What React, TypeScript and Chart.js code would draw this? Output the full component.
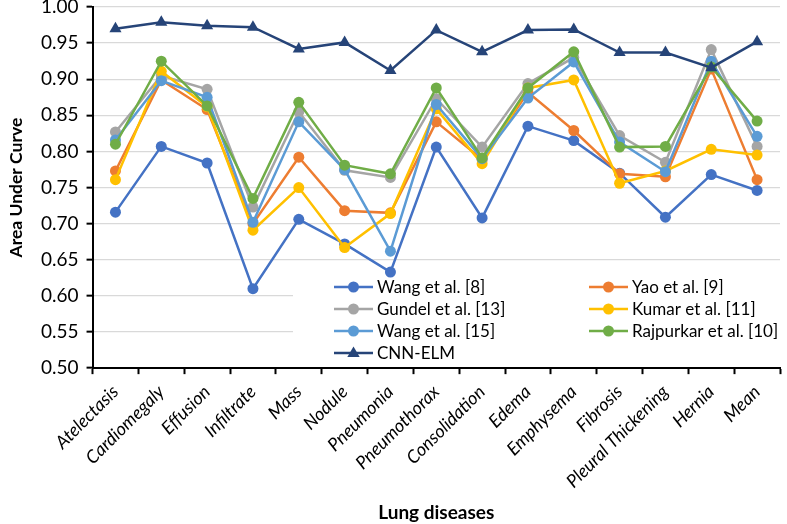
import React, { useEffect, useRef } from 'react';
import { Chart, registerables } from 'chart.js';

Chart.register(...registerables);

const categories = ['Atelectasis', 'Cardiomegaly', 'Effusion', 'Infiltrate', 'Mass', 'Nodule', 'Pneumonia', 'Pneumothorax', 'Consolidation', 'Edema', 'Emphysema', 'Fibrosis', 'Pleural Thickening', 'Hernia', 'Mean'];

const wang8 = [0.716, 0.807, 0.784, 0.610, 0.706, 0.672, 0.633, 0.806, 0.708, 0.835, 0.815, 0.770, 0.709, 0.768, 0.746];
const yao9 = [0.773, 0.899, 0.858, 0.700, 0.792, 0.718, 0.715, 0.841, 0.789, 0.882, 0.829, 0.769, 0.765, 0.914, 0.761];
const gundel13 = [0.827, 0.905, 0.886, 0.723, 0.855, 0.774, 0.764, 0.873, 0.806, 0.894, 0.930, 0.822, 0.785, 0.941, 0.807];
const kumar11 = [0.761, 0.911, 0.862, 0.691, 0.750, 0.667, 0.714, 0.859, 0.783, 0.888, 0.899, 0.756, 0.773, 0.803, 0.795];
const wang15 = [0.816, 0.898, 0.875, 0.702, 0.841, 0.775, 0.662, 0.865, 0.790, 0.874, 0.924, 0.813, 0.772, 0.925, 0.821];
const rajpurkar10 = [0.810, 0.925, 0.863, 0.735, 0.868, 0.781, 0.769, 0.888, 0.791, 0.888, 0.938, 0.806, 0.807, 0.917, 0.842];
const cnnElm = [0.970, 0.979, 0.974, 0.972, 0.942, 0.951, 0.912, 0.968, 0.938, 0.968, 0.969, 0.937, 0.937, 0.916, 0.952];

const seriesNames = ['Wang et al. [8]', 'Yao et al. [9]', 'Gundel et al. [13]', 'Kumar et al. [11]', 'Wang et al. [15]', 'Rajpurkar et al. [10]', 'CNN-ELM'];
const seriesData = [wang8, yao9, gundel13, kumar11, wang15, rajpurkar10, cnnElm];
const seriesColors = ['#4472C4', '#ED7D31', '#A5A5A5', '#FFC000', '#5B9BD5', '#70AD47', '#264478'];

const yTicks = [0.5, 0.55, 0.6, 0.65, 0.7, 0.75, 0.8, 0.85, 0.9, 0.95, 1.0];

const FONT = 'Lato';

const legendPlugin = {
  id: 'insideLegend',
  afterDatasetsDraw(chart: any) {
    const ctx = chart.ctx;
    const ca = chart.chartArea;
    const left = 293;
    const top = 278;
    ctx.save();
    ctx.fillStyle = '#ffffff';
    ctx.fillRect(left, top, ca.right - left, ca.bottom - 2 - top);
    const rows = [287, 309, 331, 353];
    const cols = [334, 589];
    ctx.font = `17px ${FONT}`;
    ctx.textBaseline = 'middle';
    ctx.textAlign = 'left';
    seriesNames.forEach((name, i) => {
      const x = cols[i % 2];
      const y = rows[Math.floor(i / 2)];
      const color = seriesColors[i];
      ctx.strokeStyle = color;
      ctx.lineWidth = 2.5;
      ctx.beginPath();
      ctx.moveTo(x, y);
      ctx.lineTo(x + 39, y);
      ctx.stroke();
      ctx.fillStyle = color;
      const cx = x + 19.5;
      if (i === 6) {
        const r = 6.5;
        ctx.beginPath();
        ctx.moveTo(cx, y - r);
        ctx.lineTo(cx + r * 0.95, y + r * 0.6);
        ctx.lineTo(cx - r * 0.95, y + r * 0.6);
        ctx.closePath();
        ctx.fill();
      } else {
        ctx.beginPath();
        ctx.arc(cx, y, 5.5, 0, Math.PI * 2);
        ctx.fill();
      }
      ctx.fillStyle = '#000000';
      ctx.fillText(name, x + 43, y + 1);
    });
    ctx.restore();
  },
};

export default function App() {
  const ref = useRef<HTMLCanvasElement | null>(null);
  useEffect(() => {
    document.body.style.margin = '0';
    const canvas = ref.current;
    if (!canvas) return;
    const datasets = seriesNames.map((name, i) => ({
      label: name,
      data: seriesData[i],
      borderColor: seriesColors[i],
      backgroundColor: seriesColors[i],
      borderWidth: 2.5,
      pointRadius: i === 6 ? 7 : 5.5,
      pointStyle: i === 6 ? 'triangle' : 'circle',
      pointBorderWidth: 0,
      tension: 0,
      order: 10 - i,
    }));
    const chart = new Chart(canvas, {
      type: 'line',
      data: { labels: categories, datasets },
      options: {
        animation: false,
        responsive: true,
        maintainAspectRatio: false,
        layout: { padding: { left: 4, right: 1, top: 7, bottom: 0 } },
        plugins: { legend: { display: false }, tooltip: { enabled: false } },
        scales: {
          x: {
            type: 'category',
            offset: true,
            grid: { offset: true, drawOnChartArea: false, drawTicks: true, tickLength: 6, tickColor: '#000000', tickWidth: 2 },
            border: { color: '#000000', width: 2 },
            ticks: {
              color: '#000000',
              font: { family: FONT, size: 18, style: 'italic' },
              minRotation: 45,
              maxRotation: 45,
              autoSkip: false,
              padding: 7,
            },
            title: {
              display: true,
              text: 'Lung diseases',
              color: '#000000',
              font: { family: FONT, size: 19, weight: 'bold' },
              padding: { top: 2, bottom: 0 },
            },
            afterFit: (s: any) => { s.paddingLeft = 0; s.paddingRight = 0; },
          },
          y: {
            min: 0.5,
            max: 1.0,
            afterBuildTicks: (s: any) => { s.ticks = yTicks.map((v) => ({ value: v })); },
            grid: { color: '#D9D9D9', lineWidth: 1.3, drawTicks: true, tickLength: 6, tickColor: '#000000', tickWidth: 2 },
            border: { color: '#000000', width: 2 },
            ticks: {
              color: '#000000',
              font: { family: FONT, size: 19 },
              padding: 8,
              callback: (v: any) => Number(v).toFixed(2),
            },
            title: {
              display: true,
              text: 'Area Under Curve',
              color: '#000000',
              font: { family: FONT, size: 17.5, weight: 'bold' },
              padding: { top: 2, bottom: 6 },
            },
            afterFit: (s: any) => { s.paddingTop = 0; s.paddingBottom = 0; },
          },
        },
      },
      plugins: [legendPlugin],
    });
    return () => chart.destroy();
  }, []);
  return (
    <div style={{ position: 'fixed', left: 0, top: 0, width: 787, height: 524 }}>
      <canvas ref={ref} />
    </div>
  );
}
